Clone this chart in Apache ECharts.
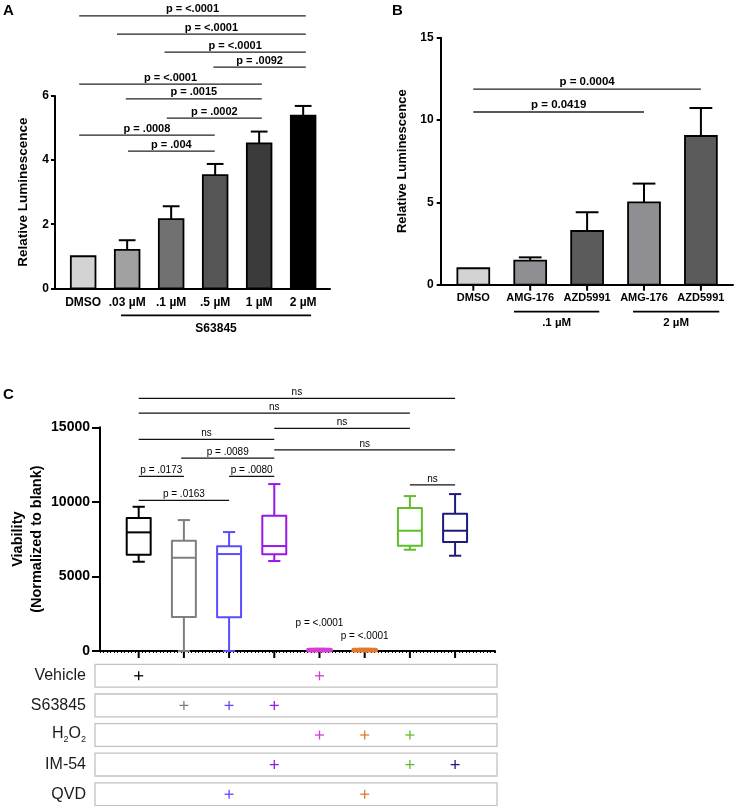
<!DOCTYPE html>
<html><head><meta charset="utf-8">
<script src="https://cdn.jsdelivr.net/npm/echarts/dist/echarts.min.js"></script>
<style>html,body{margin:0;padding:0;background:#fff}#c{width:735px;height:806px}</style>
</head><body><div id="c"></div><script>
// ---------- Panel A data ----------
const catsA = ['DMSO', '.03 µM', '.1 µM', '.5 µM', '1 µM', '2 µM'];
const meanA = [1.0, 1.2, 2.16, 3.53, 4.52, 5.39];
const upperA = [1.0, 1.5, 2.56, 3.88, 4.89, 5.69];
const colorsA = ['#d3d3d3', '#a1a1a1', '#717171', '#555555', '#3b3b3b', '#000000'];
// [from, to, level, text]
const bracketsA = [
  [-0.09, 5.06, 8.50, 'p = <.0001'],
  [0.77, 5.06, 7.93, 'p = <.0001'],
  [1.85, 5.06, 7.37, 'p = <.0001'],
  [2.96, 5.06, 6.90, 'p = .0092'],
  [-0.09, 4.06, 6.37, 'p = <.0001'],
  [0.97, 4.06, 5.91, 'p = .0015'],
  [1.90, 4.06, 5.31, 'p = .0002'],
  [-0.09, 2.99, 4.78, 'p = .0008'],
  [1.02, 2.99, 4.28, 'p = .004']
];
const groupsA = [[0.86, 5.18, 'S63845']];

// ---------- Panel B data ----------
const catsB = ['DMSO', 'AMG-176', 'AZD5991', 'AMG-176', 'AZD5991'];
const meanB = [1.0, 1.46, 3.26, 5.0, 9.03];
const upperB = [1.0, 1.66, 4.4, 6.14, 10.73];
const colorsB = ['#d3d3d3', '#8f8f93', '#5b5b5b', '#8f8f93', '#5b5b5b'];
const bracketsB = [
  [0, 4, 11.88, 'p = 0.0004'],
  [0, 3, 10.49, 'p = 0.0419']
];
const groupsB = [[0.715, 2.214, '.1 µM'], [2.807, 4.323, '2 µM']];

// ---------- Panel C data ----------
// [min, Q1, median, Q3, max]
const boxC = [
  [5985, 6454, 7955, 8914, 9671],
  [0, 2279, 6253, 7392, 8780],
  [0, 2259, 6501, 7017, 7975],
  [6032, 6481, 7037, 9068, 11193],
  [0, 0, 40, 110, 150],
  [0, 0, 40, 110, 150],
  [6791, 7059, 8065, 9584, 10388],
  [6389, 7306, 8065, 9203, 10522]
];
const colorsC = ['#000000', '#7f7f7f', '#5a4cff', '#9a18e6', '#d23fd2', '#e07a2c', '#5fbe2a', '#1f1a7c'];
const bracketsC = [
  [0, 7, 16936, 'ns'],
  [0, 6, 15951, 'ns'],
  [3, 6, 14926, 'ns'],
  [0, 3, 14188, 'ns'],
  [3, 7, 13491, 'ns'],
  [0.94, 3, 12935, 'p = .0089'],
  [0, 1, 11708, 'p = .0173'],
  [2, 3, 11708, 'p = .0080'],
  [6, 7, 11145, 'ns'],
  [0, 2, 10100, 'p = .0163'],
  [4, 4, 1430, 'p = <.0001'],
  [5, 5, 560, 'p = <.0001']
];

// ---------- Table data ----------
const rowsD = ['Vehicle', 'S63845', 'H₂O₂', 'IM-54', 'QVD'];
const membersD = [[0, 4], [1, 2, 3], [4, 5, 6], [3, 6, 7], [2, 5]];

const FF = '"Liberation Sans", Arial, Helvetica, sans-serif';
function T(x, y, text, font, align, va, fill) {
  return {type: 'text', x: x, y: y, style: {text: text, font: font, fill: fill || '#000',
    align: align, verticalAlign: va, textAlign: align, textVerticalAlign: va}};
}
function L(x1, y1, x2, y2, stroke, w) {
  return {type: 'line', shape: {x1: x1, y1: y1, x2: x2, y2: y2}, style: {stroke: stroke, lineWidth: w}};
}

function barSeries(ai, means, uppers, colors, halfW, capHalf) {
  return {type: 'custom', xAxisIndex: ai, yAxisIndex: ai, clip: false, silent: true,
    data: means.map((m, i) => [i, 0, m, uppers[i]]),
    encode: {x: 0, y: [1, 2, 3]},
    renderItem(params, api) {
      const i = api.value(0);
      const base = api.coord([i - halfW, 0]);
      const top = api.coord([i + halfW, api.value(2)]);
      const err = api.coord([i, api.value(3)]);
      const cl = api.coord([i - capHalf, api.value(3)]);
      const cr = api.coord([i + capHalf, api.value(3)]);
      const ch = [];
      if (api.value(3) > api.value(2)) {
        ch.push(L(err[0], top[1], err[0], err[1], '#000', 2));
        ch.push(L(cl[0], err[1], cr[0], err[1], '#000', 2));
      }
      ch.push({type: 'rect', shape: {x: base[0], y: top[1], width: top[0] - base[0], height: base[1] - top[1]},
        style: {fill: colors[i], stroke: '#000', lineWidth: 1.8}});
      return {type: 'group', children: ch};
    }};
}
function catLabelSeries(ai, n, cats, font, dy, tickLen) {
  const d = [];
  for (let i = 0; i < n; i++) d.push([i, 0]);
  return {type: 'custom', xAxisIndex: ai, yAxisIndex: ai, clip: false, silent: true,
    data: d, encode: {x: 0, y: 1},
    renderItem(params, api) {
      const p = api.coord([api.value(0), 0]);
      const ch = [];
      if (cats) ch.push(T(p[0], p[1] + dy, cats[params.dataIndex], font, 'center', 'middle'));
      if (tickLen) ch.push(L(p[0], p[1], p[0], p[1] + tickLen, '#000', 2));
      return {type: 'group', children: ch};
    }};
}
function groupSeries(ai, groups, font, dLine, dText) {
  return {type: 'custom', xAxisIndex: ai, yAxisIndex: ai, clip: false, silent: true,
    data: groups.map(g => [g[0], g[1], 0]), encode: {x: [0, 1], y: 2},
    renderItem(params, api) {
      const p1 = api.coord([api.value(0), 0]);
      const p2 = api.coord([api.value(1), 0]);
      return {type: 'group', children: [
        L(p1[0], p1[1] + dLine, p2[0], p1[1] + dLine, '#000', 1.8),
        T((p1[0] + p2[0]) / 2, p1[1] + dText, groups[params.dataIndex][2], font, 'center', 'middle')
      ]};
    }};
}
function bracketSeries(ai, br, font, lw, color) {
  return {type: 'custom', xAxisIndex: ai, yAxisIndex: ai, clip: false, silent: true,
    data: br.map(b => [b[0], b[1], b[2]]), encode: {x: [0, 1], y: 2},
    renderItem(params, api) {
      const p1 = api.coord([api.value(0), api.value(2)]);
      const p2 = api.coord([api.value(1), api.value(2)]);
      const ch = [];
      if (api.value(1) > api.value(0)) ch.push(L(p1[0], p1[1], p2[0], p2[1], color, lw));
      ch.push(T((p1[0] + p2[0]) / 2, p1[1] - 1, br[params.dataIndex][3], font, 'center', 'bottom'));
      return {type: 'group', children: ch};
    }};
}

const boxSeries = {type: 'custom', xAxisIndex: 2, yAxisIndex: 2, clip: false, silent: true,
  data: boxC.map((b, i) => [i, b[0], b[4]]), encode: {x: 0, y: [1, 2]},
  renderItem(params, api) {
    const i = api.value(0);
    const b = boxC[params.dataIndex];
    const c = colorsC[params.dataIndex];
    const ys = b.map(v => api.coord([i, v])[1]);
    const xl = api.coord([i - 0.265, 0])[0];
    const xr = api.coord([i + 0.265, 0])[0];
    const xm = api.coord([i, 0])[0];
    const cl = api.coord([i - 0.135, 0])[0];
    const cr = api.coord([i + 0.135, 0])[0];
    const w = 2;
    const flat = ys[1] - ys[3] < 3;
    return {type: 'group', children: [
      L(xm, ys[3], xm, ys[4], c, w),
      L(cl, ys[4], cr, ys[4], c, w),
      L(xm, ys[1], xm, ys[0], c, w),
      L(cl, ys[0], cr, ys[0], c, w),
      {type: 'rect', shape: {x: xl, y: ys[3], width: xr - xl, height: Math.max(ys[1] - ys[3], 1.5), r: flat ? 2 : 0},
        style: {fill: flat ? c : 'none', stroke: c, lineWidth: flat ? 3 : w, lineJoin: 'round'}},
      L(xl, ys[2], xr, ys[2], c, w)
    ]};
  }};

const rowSeries = {type: 'custom', xAxisIndex: 3, yAxisIndex: 3, clip: false, silent: true,
  data: rowsD.map((r, i) => [0, i]), encode: {x: 0, y: 1},
  renderItem(params, api) {
    const cs = params.coordSys;
    const cy = api.coord([0, params.dataIndex])[1];
    return {type: 'rect', shape: {x: cs.x, y: cy - 11.4, width: cs.width, height: 22.8},
      style: {fill: 'none', stroke: '#c2c2c2', lineWidth: 1.3}};
  }};
const plusData = [];
membersD.forEach((m, r) => m.forEach(ci => plusData.push([ci, r])));
const plusSeries = {type: 'custom', xAxisIndex: 3, yAxisIndex: 3, clip: false, silent: true,
  data: plusData, encode: {x: 0, y: 1},
  renderItem(params, api) {
    const p = api.coord([api.value(0), api.value(1)]);
    const c = colorsC[api.value(0)];
    const h = 4.5;
    return {type: 'group', children: [
      L(p[0] - h, p[1], p[0] + h, p[1], c, 1.3),
      L(p[0], p[1] - h, p[0], p[1] + h, c, 1.3)
    ]};
  }};

const xLine = {show: true, onZero: false, lineStyle: {color: '#000', width: 2}};
const yLine = {show: true, onZero: false, lineStyle: {color: '#000', width: 2}};
const G = {containLabel: false, outerBoundsMode: 'none'};
const option = {
  animation: false,
  backgroundColor: '#fff',
  textStyle: {fontFamily: FF},
  grid: [
    Object.assign({left: 55, top: 96, width: 275, height: 192.3}, G),
    Object.assign({left: 440.7, top: 37.7, width: 292.3, height: 247}, G),
    Object.assign({left: 100, top: 427.3, width: 395, height: 223.7}, G),
    Object.assign({left: 95, top: 661, width: 402, height: 148}, G)
  ],
  xAxis: [
    {gridIndex: 0, type: 'value', min: -0.64, max: 5.61, axisLine: xLine, axisTick: {show: false}, axisLabel: {show: false}, splitLine: {show: false}},
    {gridIndex: 1, type: 'value', min: -0.573, max: 4.564, axisLine: xLine, axisTick: {show: false}, axisLabel: {show: false}, splitLine: {show: false}},
    {gridIndex: 2, type: 'value', min: -0.856, max: 7.883, interval: 0.856 / 11, axisLine: xLine,
      axisTick: {show: true, length: 2, lineStyle: {color: '#000', width: 1}}, axisLabel: {show: false}, splitLine: {show: false}},
    {gridIndex: 3, type: 'value', min: -0.967, max: 7.927, show: false}
  ],
  yAxis: [
    {gridIndex: 0, type: 'value', min: 0, max: 6, interval: 2, axisLine: yLine,
      axisTick: {show: true, length: 4, lineStyle: {color: '#000', width: 2}},
      axisLabel: {color: '#000', fontWeight: 'bold', fontSize: 12, margin: 6, fontFamily: FF}, splitLine: {show: false},
      name: 'Relative Luminescence', nameLocation: 'middle', nameGap: 25, nameMoveOverlap: false,
      nameTextStyle: {color: '#000', fontWeight: 'bold', fontSize: 13.5, fontFamily: FF}},
    {gridIndex: 1, type: 'value', min: 0, max: 15, interval: 5, axisLine: yLine,
      axisTick: {show: true, length: 4, lineStyle: {color: '#000', width: 2}},
      axisLabel: {color: '#000', fontWeight: 'bold', fontSize: 12, margin: 7, fontFamily: FF}, splitLine: {show: false},
      name: 'Relative Luminescence', nameLocation: 'middle', nameGap: 32, nameMoveOverlap: false,
      nameTextStyle: {color: '#000', fontWeight: 'bold', fontSize: 13, fontFamily: FF}},
    {gridIndex: 2, type: 'value', min: 0, max: 15000, interval: 5000, axisLine: yLine,
      axisTick: {show: true, length: 8, lineStyle: {color: '#000', width: 2}},
      axisLabel: {color: '#000', fontWeight: 'bold', fontSize: 14, margin: 10, fontFamily: FF, formatter: v => String(v)},
      splitLine: {show: false},
      name: 'Viability\n(Normalized to blank)', nameLocation: 'middle', nameGap: 54, nameMoveOverlap: false,
      nameTextStyle: {color: '#000', fontWeight: 'bold', fontSize: 14.5, lineHeight: 19, fontFamily: FF}},
    {gridIndex: 3, type: 'category', data: rowsD, inverse: true, axisLine: {show: false}, axisTick: {show: false},
      splitLine: {show: false},
      axisLabel: {color: '#1a1a1a', fontSize: 16, margin: 9, fontFamily: FF,
        formatter: v => v === 'H₂O₂' ? '{n|H}{s|2}{n|O}{s|2}' : v,
        rich: {n: {fontSize: 16, fontFamily: FF, color: '#1a1a1a', lineHeight: 18, verticalAlign: 'top'},
               s: {fontSize: 9, fontFamily: FF, color: '#1a1a1a', lineHeight: 2, verticalAlign: 'bottom'}}}}
  ],
  graphic: [
    {type: 'text', left: 3, top: 3, style: {text: 'A', font: 'bold 15px ' + FF, fill: '#000'}},
    {type: 'text', left: 392, top: 3, style: {text: 'B', font: 'bold 15px ' + FF, fill: '#000'}},
    {type: 'text', left: 3, top: 387, style: {text: 'C', font: 'bold 15px ' + FF, fill: '#000'}}
  ],
  series: [
    barSeries(0, meanA, upperA, colorsA, 0.28, 0.19),
    catLabelSeries(0, catsA.length, catsA, 'bold 12px ' + FF, 14, 0),
    groupSeries(0, groupsA, 'bold 12px ' + FF, 27, 40),
    bracketSeries(0, bracketsA, 'bold 11px ' + FF, 1.4, '#222'),
    barSeries(1, meanB, upperB, colorsB, 0.28, 0.2),
    catLabelSeries(1, catsB.length, catsB, 'bold 11px ' + FF, 13.6, 6),
    groupSeries(1, groupsB, 'bold 11.5px ' + FF, 27, 38),
    bracketSeries(1, bracketsB, 'bold 11.5px ' + FF, 1.4, '#222'),
    catLabelSeries(2, boxC.length, null, '', 0, 7),
    boxSeries,
    bracketSeries(2, bracketsC, '10px ' + FF, 1.3, '#111'),
    rowSeries,
    plusSeries
  ]
};
const chart = echarts.init(document.getElementById('c'), null, {renderer: 'canvas', width: 735, height: 806});
chart.setOption(option);
</script></body></html>
